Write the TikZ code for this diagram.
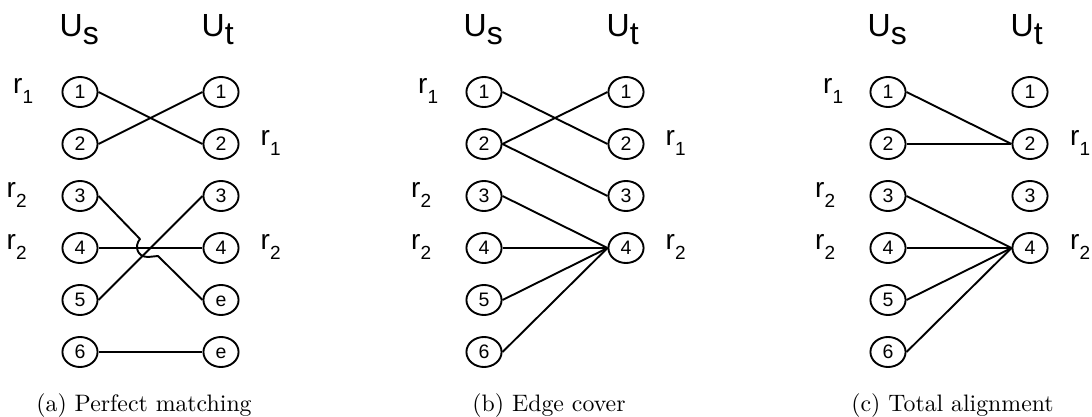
\documentclass[tikz,border=0pt]{standalone}
\usepackage{fontspec}
\usetikzlibrary{shapes.geometric}
\newfontfamily\labfont{Liberation Sans}
\newcommand\rlab[1]{{\fontsize{28}{28}\selectfont r}\raisebox{-10pt}{\fontsize{19}{19}\selectfont #1}}
\newcommand\ulab[1]{{\fontsize{32}{32}\selectfont U\raisebox{-8.3pt}{#1}}}
\tikzset{
  vnode/.style={shape=ellipse, draw, line width=1.9pt, text height=13.6pt, text depth=0pt,
    inner xsep=7pt, inner ysep=3.6pt, minimum width=35pt, minimum height=30pt,
    font=\labfont\fontsize{19.5}{19.5}\selectfont},
  edge/.style={line width=1.9pt},
  txt/.style={anchor=base west, inner sep=0pt, font=\labfont},
  capt/.style={anchor=base, inner sep=0pt, scale=2.38},
}
\begin{document}
\begin{tikzpicture}[x=1pt,y=-1pt]
\useasboundingbox (0,0) rectangle (1092,417);
% ---------- panel (a)
\def\L{80}\def\R{221}
\node[txt] (aus) at (59.5,36.7) {\ulab{s}};
\node[txt] (aut) at (201.5,36.7) {\ulab{t}};
\node[txt] (ar1) at (13,93.5) {\rlab{1}};
\node[txt] (ar1r) at (260.5,145.5) {\rlab{1}};
\node[txt] (ar2a) at (6.5,197.5) {\rlab{2}};
\node[txt] (ar2b) at (6.5,249.5) {\rlab{2}};
\node[txt] (ar2r) at (260.5,249.5) {\rlab{2}};
\node[vnode] (aL1) at (\L,92) {1};
\node[vnode] (aL2) at (\L,144) {2};
\node[vnode] (aL3) at (\L,196) {3};
\node[vnode] (aL4) at (\L,248) {4};
\node[vnode] (aL5) at (\L,300) {5};
\node[vnode] (aL6) at (\L,352) {6};
\node[vnode] (aR1) at (\R,92) {1};
\node[vnode] (aR2) at (\R,144) {2};
\node[vnode] (aR3) at (\R,196) {3};
\node[vnode] (aR4) at (\R,248) {4};
\node[vnode] (aR5) at (\R,300) {e};
\node[vnode] (aR6) at (\R,352) {e};
\coordinate (h1) at (140,239);
\coordinate (h2) at (148,257);
\coordinate (h3) at (158,256);
\draw[edge] (aL1.east) -- (aR2.west);
\draw[edge] (aL2.east) -- (aR1.west);
\draw[edge] (aL4.east) -- (aR4.west);
\draw[edge] (aL5.east) -- (aR3.west);
\draw[edge] (aL6.east) -- (aR6.west);
\draw[edge, line join=round] (aL3.east) -- (h1) .. controls (134,246) and (137,257) .. (h2) -- (h3) -- (aR5.west);
\node[capt] (acap) at (144,411.5) {\fontsize{10}{12}\selectfont (a) Perfect matching};
% ---------- panel (b)
\def\L{484}\def\R{626}
\node[txt] (bus) at (463.5,36.7) {\ulab{s}};
\node[txt] (but) at (606.5,36.7) {\ulab{t}};
\node[txt] (br1) at (418,93.5) {\rlab{1}};
\node[txt] (br1r) at (665.5,145.5) {\rlab{1}};
\node[txt] (br2a) at (411,197.5) {\rlab{2}};
\node[txt] (br2b) at (411,249.5) {\rlab{2}};
\node[txt] (br2r) at (665.5,249.5) {\rlab{2}};
\node[vnode] (bL1) at (\L,92) {1};
\node[vnode] (bL2) at (\L,144) {2};
\node[vnode] (bL3) at (\L,196) {3};
\node[vnode] (bL4) at (\L,248) {4};
\node[vnode] (bL5) at (\L,300) {5};
\node[vnode] (bL6) at (\L,352) {6};
\node[vnode] (bR1) at (\R,92) {1};
\node[vnode] (bR2) at (\R,144) {2};
\node[vnode] (bR3) at (\R,196) {3};
\node[vnode] (bR4) at (\R,248) {4};
\draw[edge] (bL1.east) -- (bR2.west);
\draw[edge] (bL2.east) -- (bR1.west);
\draw[edge] (bL2.east) -- (bR3.west);
\draw[edge] (bL3.east) -- (bR4.west);
\draw[edge] (bL4.east) -- (bR4.west);
\draw[edge] (bL5.east) -- (bR4.west);
\draw[edge] (bL6.east) -- (bR4.west);
\node[capt] (bcap) at (549,411.5) {\fontsize{10}{12}\selectfont (b) Edge cover};
% ---------- panel (c)
\def\L{888}\def\R{1030}
\node[txt] (cus) at (867.5,36.7) {\ulab{s}};
\node[txt] (cut) at (1010.5,36.7) {\ulab{t}};
\node[txt] (cr1) at (823,93.5) {\rlab{1}};
\node[txt] (cr1r) at (1070,145.5) {\rlab{1}};
\node[txt] (cr2a) at (815,197.5) {\rlab{2}};
\node[txt] (cr2b) at (815,249.5) {\rlab{2}};
\node[txt] (cr2r) at (1070,249.5) {\rlab{2}};
\node[vnode] (cL1) at (\L,92) {1};
\node[vnode] (cL2) at (\L,144) {2};
\node[vnode] (cL3) at (\L,196) {3};
\node[vnode] (cL4) at (\L,248) {4};
\node[vnode] (cL5) at (\L,300) {5};
\node[vnode] (cL6) at (\L,352) {6};
\node[vnode] (cR1) at (\R,92) {1};
\node[vnode] (cR2) at (\R,144) {2};
\node[vnode] (cR3) at (\R,196) {3};
\node[vnode] (cR4) at (\R,248) {4};
\draw[edge] (cL1.east) -- (cR2.west);
\draw[edge] (cL2.east) -- (cR2.west);
\draw[edge] (cL3.east) -- (cR4.west);
\draw[edge] (cL4.east) -- (cR4.west);
\draw[edge] (cL5.east) -- (cR4.west);
\draw[edge] (cL6.east) -- (cR4.west);
\node[capt] (ccap) at (952.5,411.5) {\fontsize{10}{12}\selectfont (c) Total alignment};
\end{tikzpicture}
\end{document}
